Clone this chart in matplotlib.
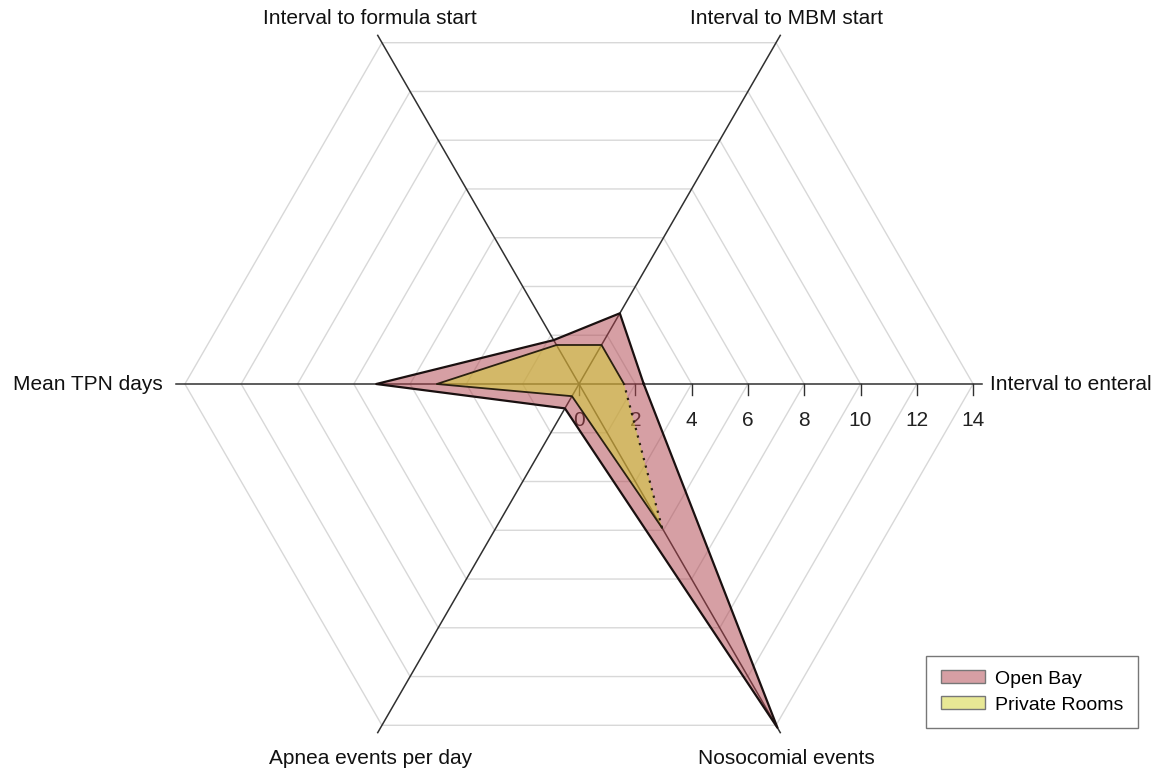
import numpy as np
import matplotlib
matplotlib.use("Agg")
import matplotlib.pyplot as plt
from matplotlib.patches import Patch

plt.rcParams['font.family'] = ['Liberation Sans', 'DejaVu Sans']

categories = ["Interval to enteral", "Interval to MBM start", "Interval to formula start",
              "Mean TPN days", "Apnea events per day", "Nosocomial events"]
open_bay = [2.3, 2.9, 1.8, 7.2, 1.0, 14.1]
private_rooms = [1.6, 1.6, 1.6, 5.05, 0.5, 5.9]
tick_values = [0, 2, 4, 6, 8, 10, 12, 14]
series_names = ["Open Bay", "Private Rooms"]

angles = np.deg2rad(np.arange(len(categories)) * 60.0)

def to_xy(vals):
    v = np.asarray(vals, dtype=float)
    return v * np.cos(angles), v * np.sin(angles)

scale = 28.15  # px per unit
fig = plt.figure(figsize=(11.6, 7.74), dpi=100)
ax = fig.add_axes([0, 0, 1, 1])
ax.set_xlim(-579 / scale, 581 / scale)
ax.set_ylim(-390 / scale, 384 / scale)
ax.axis('off')

# hexagonal grid
for t in tick_values[1:]:
    gx, gy = to_xy([t] * len(categories))
    ax.plot(np.append(gx, gx[0]), np.append(gy, gy[0]), color='#d8d8d8', lw=1.0, zorder=1)

# spokes
rmax = 14.3
for a in angles:
    ax.plot([0, rmax * np.cos(a)], [0, rmax * np.sin(a)], color='#303030', lw=1.1, zorder=2)

# ticks on the first axis
tick_len = 11 / scale
for t in tick_values:
    ax.plot([t, t], [0, -tick_len], color='#303030', lw=1.0, zorder=2)
    ax.text(t, -36 / scale, str(t), ha='center', va='center', fontsize=15, color='#222222', zorder=2)

# polygons
ox, oy = to_xy(open_bay)
ax.fill(ox, oy, facecolor=(175/255, 65/255, 75/255, 0.5), edgecolor='none', zorder=3)
ax.plot(np.append(ox, ox[0]), np.append(oy, oy[0]), color='#1a1010', lw=1.6, zorder=5)

px, py = to_xy(private_rooms)
ax.fill(px, py, facecolor=(210/255, 210/255, 45/255, 0.5), edgecolor='none', zorder=4)
# outline: solid except the closing segment (Nosocomial -> enteral), dotted
ax.plot(px, py, color='#2a2010', lw=1.3, zorder=5)
ax.plot([px[-1], px[0]], [py[-1], py[0]], color='#2a2010', lw=1.6, ls=(0, (1, 2.5)), zorder=5)

# category labels
fs = 15
ax.text(-7.42, 13.0, categories[2], ha='center', va='center', fontsize=fs, color='#111111')
ax.text(7.38, 13.0, categories[1], ha='center', va='center', fontsize=fs, color='#111111')
ax.text(14.6, 0, categories[0], ha='left', va='center', fontsize=fs, color='#111111')
ax.text(-14.78, 0, categories[3], ha='right', va='center', fontsize=fs, color='#111111')
ax.text(-7.42, -13.3, categories[4], ha='center', va='center', fontsize=fs, color='#111111')
ax.text(7.38, -13.3, categories[5], ha='center', va='center', fontsize=fs, color='#111111')

handles = [
    Patch(facecolor=(175/255, 65/255, 75/255, 0.5), edgecolor='#777777', lw=1.0, label=series_names[0]),
    Patch(facecolor=(210/255, 210/255, 45/255, 0.5), edgecolor='#777777', lw=1.0, label=series_names[1]),
]
leg = fig.legend(handles=handles, loc='lower right', bbox_to_anchor=(0.981, 0.059),
                 borderaxespad=0, fancybox=False, frameon=True, edgecolor='#555555',
                 fontsize=14, handlelength=2.3, handleheight=0.65, labelspacing=0.45,
                 borderpad=0.75, handletextpad=0.5)
leg.get_frame().set_linewidth(1.0)

fig.savefig("out.png", dpi=100)
